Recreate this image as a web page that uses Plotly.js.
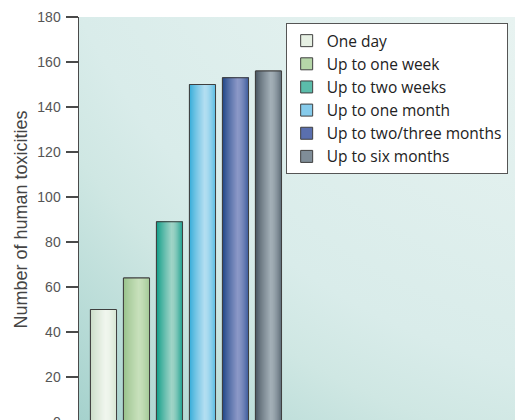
<!DOCTYPE html>
<html>
<head>
<meta charset="utf-8">
<script src="https://cdn.plot.ly/plotly-3.0.1.min.js"></script>
<style>
html, body { margin: 0; padding: 0; background: #ffffff; overflow: hidden; }
#wrap { width: 515px; height: 420px; overflow: hidden; position: relative; }
#chart { width: 515px; height: 460px; }
</style>
</head>
<body>
<div id="wrap"><div id="chart"></div></div>
<script>
// ---- data ----
const categories = ['One day', 'Up to one week', 'Up to two weeks', 'Up to one month', 'Up to two/three months', 'Up to six months'];
const values = [50, 64, 89, 150, 153, 156];
const yTicks = [0, 20, 40, 60, 80, 100, 120, 140, 160, 180];

// ---- styling: per-series colour stops (left edge, highlight, right edge) ----
const leftCols  = ['#c9dcc6', '#96c089', '#089a85', '#30aad8', '#1c4385', '#45535e'];
const midCols   = ['#f0f6ee', '#c7e0bb', '#a0d4c7', '#b3def1', '#8b98c7', '#a3afb7'];
const rightCols = ['#d6e6d2', '#a3c996', '#1aa08e', '#58bce3', '#3a5a9b', '#5c6a76'];
const legendCols = ['#e6f0e3', '#b5d6a8', '#5bbcaa', '#86cbeb', '#5a6fae', '#7f8d98'];

function hex2rgb(h) { return [parseInt(h.slice(1,3),16), parseInt(h.slice(3,5),16), parseInt(h.slice(5,7),16)]; }
function mix(a, b, t) {
  const A = hex2rgb(a), B = hex2rgb(b);
  return 'rgb(' + A.map((v, i) => Math.round(v + (B[i] - v) * t)).join(',') + ')';
}
function profile(i, t) {
  const p = 0.58;
  if (t <= p) { const u = t / p; return mix(leftCols[i], midCols[i], Math.pow(u, 0.8)); }
  const u = (t - p) / (1 - p); return mix(midCols[i], rightCols[i], Math.pow(u, 1.6));
}

const W = 0.79;
const N = 13;
const traces = [];
categories.forEach((c, i) => {
  traces.push({
    type: 'bar', x: [c], y: [values[i]], name: c, width: W,
    marker: { color: legendCols[i], line: { color: '#3f3f3f', width: 1 } },
    showlegend: true, hoverinfo: 'skip', legendgroup: c
  });
  for (let k = 0; k < N; k++) {
    const start = -W / 2 + k * W / N;
    traces.push({
      type: 'bar', x: [c], y: [values[i]], width: W / 2 - start, offset: start,
      marker: { color: profile(i, (k + 0.5) / N), line: { width: 0 } },
      showlegend: false, hoverinfo: 'skip', legendgroup: c
    });
  }
  traces.push({
    type: 'bar', x: [c], y: [values[i]], width: W,
    marker: { color: 'rgba(0,0,0,0)', line: { color: '#3f3f3f', width: 1 } },
    showlegend: false, hoverinfo: 'skip', legendgroup: c
  });
});

// background radial gradient for the plot area (436 x 405 px)
const bgSvg = '<svg xmlns="http://www.w3.org/2000/svg" width="436" height="405" viewBox="0 0 436 405" preserveAspectRatio="none">' +
  '<defs><radialGradient id="g" gradientUnits="userSpaceOnUse" cx="600" cy="-300" r="930">' +
  '<stop offset="0" stop-color="#f0f8f6"/>' +
  '<stop offset="0.37" stop-color="#e8f3f1"/>' +
  '<stop offset="0.72" stop-color="#d9ecea"/>' +
  '<stop offset="0.8" stop-color="#cfe7e3"/>' +
  '<stop offset="1" stop-color="#a4d1cc"/>' +
  '</radialGradient></defs><rect width="436" height="405" fill="url(#g)"/></svg>';
const bgUri = 'data:image/svg+xml;charset=utf-8,' + encodeURIComponent(bgSvg);

const layout = {
  width: 515, height: 460,
  margin: { l: 79, r: 0, t: 17, b: 38, pad: 0 },
  paper_bgcolor: '#ffffff',
  plot_bgcolor: 'rgba(0,0,0,0)',
  barmode: 'overlay',
  font: { family: 'Liberation Sans, Arial, sans-serif', color: '#4a4a4a' },
  images: [{
    source: bgUri, xref: 'paper', yref: 'paper', x: 0, y: 1, sizex: 1, sizey: 1,
    xanchor: 'left', yanchor: 'top', sizing: 'stretch', layer: 'below'
  }],
  xaxis: {
    type: 'category', range: [-0.742, 12.47],
    showticklabels: false, ticks: '', showline: false, showgrid: false, zeroline: false, fixedrange: true
  },
  yaxis: {
    range: [0, 180], tickvals: yTicks, ticktext: yTicks.map(String),
    ticks: 'outside', ticklen: 12, tickwidth: 1.3, tickcolor: '#4a4a4a',
    ticklabelstandoff: 2,
    showline: true, linecolor: '#4a4a4a', linewidth: 1.5,
    showgrid: false, zeroline: false,
    tickfont: { size: 14, color: '#555555' },
    title: { text: 'Number of human toxicities', font: { size: 18, color: '#444444' }, standoff: 5 },
    fixedrange: true
  },
  legend: {
    x: 0.474, y: 0.985, xanchor: 'left', yanchor: 'top',
    bgcolor: '#ffffff', bordercolor: '#555555', borderwidth: 1,
    font: { family: 'Open Sans, sans-serif', size: 15.5, color: '#222222' }, tracegroupgap: 0, traceorder: 'normal'
  },
  showlegend: true
};

Plotly.newPlot('chart', traces, layout, { displayModeBar: false, staticPlot: true });
</script>
</body>
</html>
